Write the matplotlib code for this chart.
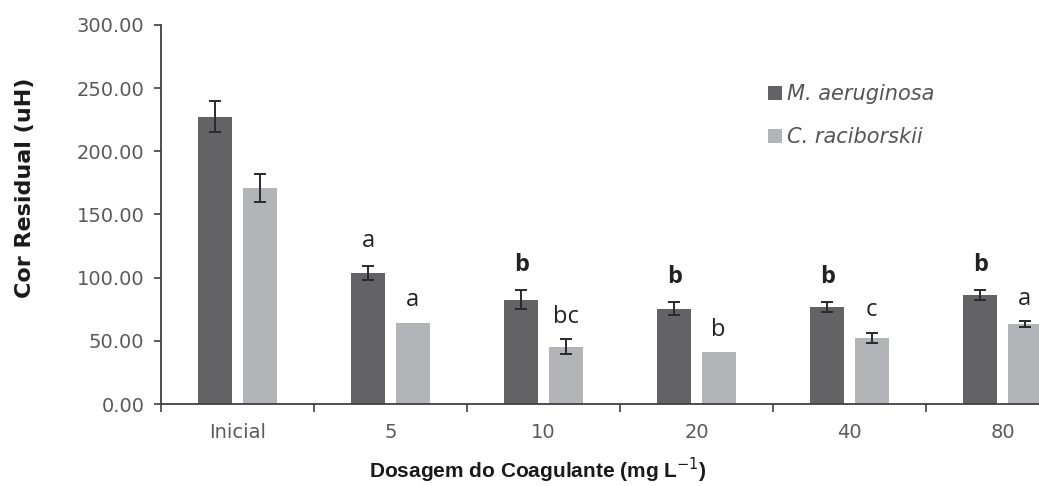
import matplotlib
matplotlib.use("Agg")
import matplotlib.pyplot as plt
from matplotlib.patches import Patch
import numpy as np

# Data
categories = ["Inicial", "5", "10", "20", "40", "80"]
series_names = ["M. aeruginosa", "C. raciborskii"]
micro_vals = [227.5, 104.0, 82.5, 75.5, 76.5, 86.5]
micro_err = [12.0, 5.5, 7.5, 5.3, 4.0, 3.8]
cylin_vals = [171.0, 64.5, 45.5, 41.0, 52.5, 63.5]
cylin_err = [11.0, 0.0, 6.0, 0.0, 4.0, 2.2]
micro_letters = ["", "a", "b", "b", "b", "b"]
micro_bold = [False, False, True, True, True, True]
cylin_letters = ["", "a", "bc", "b", "c", "a"]
y_ticks = [0, 50, 100, 150, 200, 250, 300]

dark = "#636366"
light = "#b3b4b7"
tick_gray = "#5a5a5a"
axis_col = "#404040"

W, H = 1039, 486
fig = plt.figure(figsize=(W / 100, H / 100), dpi=100)
ax = fig.add_axes([161 / W, 1 - 404 / H, 918 / W, 379 / H])

x = np.arange(len(categories))
bw = 0.222
off = 0.144
ax.bar(x - off, micro_vals, bw, color=dark, zorder=2)
ax.bar(x + off, cylin_vals, bw, color=light, zorder=2)

ekw = dict(fmt="none", ecolor="#2a2a2a", elinewidth=1.4, capsize=4.5,
           capthick=1.4, zorder=3)


def draw_errors(xpos, vals, errs):
    keep = [i for i, e in enumerate(errs) if e > 0]
    ax.errorbar([xpos[i] for i in keep], [vals[i] for i in keep],
                yerr=[errs[i] for i in keep], **ekw)


draw_errors(x - off, micro_vals, micro_err)
draw_errors(x + off, cylin_vals, cylin_err)

# Significance letters above bars
for i in range(len(categories)):
    if micro_letters[i]:
        ax.annotate(micro_letters[i], (x[i] - off, micro_vals[i] + micro_err[i]),
                    xytext=(0, 18), textcoords="offset points",
                    ha="center", va="center", fontsize=17,
                    fontfamily="Open Sans",
                    fontweight="bold" if micro_bold[i] else "normal",
                    color="#222222")
    if cylin_letters[i]:
        ax.annotate(cylin_letters[i], (x[i] + off, cylin_vals[i] + cylin_err[i]),
                    xytext=(0, 16), textcoords="offset points",
                    ha="center", va="center", fontsize=17,
                    fontfamily="Open Sans", color="#222222")

ax.set_xlim(-0.5, len(categories) - 0.5)
ax.set_ylim(0, 300)
ax.set_yticks(y_ticks)
ax.set_yticklabels([f"{v:.2f}" for v in y_ticks])
ax.set_xticks(x)
ax.set_xticklabels(categories)
ax.set_xticks(np.arange(len(categories)) - 0.5, minor=True)

for s in ["top", "right"]:
    ax.spines[s].set_visible(False)
for s in ["left", "bottom"]:
    ax.spines[s].set_color(axis_col)
    ax.spines[s].set_linewidth(1.3)

ax.tick_params(axis="y", direction="out", length=5, width=1.2, color=axis_col,
               pad=7, labelsize=14, labelcolor=tick_gray)
ax.tick_params(axis="x", which="major", length=0, pad=14, labelsize=14,
               labelcolor=tick_gray)
ax.tick_params(axis="x", which="minor", direction="out", length=6, width=1.2,
               color=axis_col)
for lab in ax.get_yticklabels() + ax.get_xticklabels():
    lab.set_fontfamily("DejaVu Sans")

fig.text(25 / W, 1 - 188 / H, "Cor Residual (uH)", rotation=90,
         ha="center", va="center", fontsize=16, fontweight="bold",
         fontfamily="DejaVu Sans", color="#1a1a1a")
fig.text(538 / W, 1 - 470 / H, r"Dosagem do Coagulante (mg L$^{-1}$)",
         ha="center", va="center", fontsize=15, fontweight="bold",
         fontfamily="Liberation Sans", color="#1a1a1a")

handles = [Patch(facecolor=dark, edgecolor="none"),
           Patch(facecolor=light, edgecolor="none")]
leg = fig.legend(handles, series_names, loc="upper left",
                 bbox_to_anchor=(758 / W, 1 - 74 / H), frameon=False,
                 borderpad=0, handlelength=0.65, handleheight=0.65,
                 handletextpad=0.25, labelspacing=1.08,
                 prop={"family": "DejaVu Sans", "style": "italic", "size": 15})
for t in leg.get_texts():
    t.set_color("#555555")

fig.savefig("out.png", dpi=100)
